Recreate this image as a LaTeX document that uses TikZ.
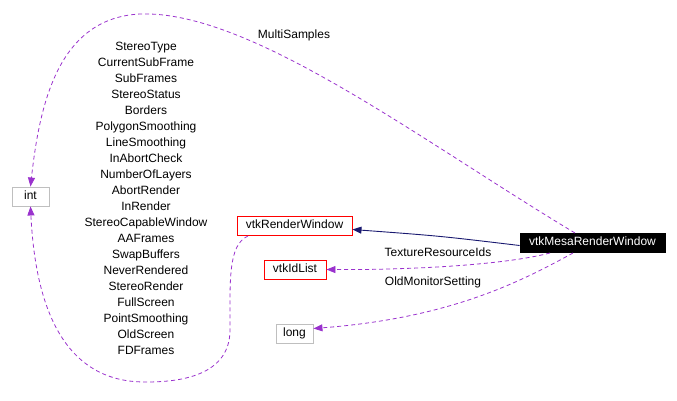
\documentclass[tikz,border=0pt]{standalone}
\usepackage{fontspec}
\setmainfont{Liberation Sans}
\usetikzlibrary{arrows.meta}
\definecolor{edgepurple}{HTML}{9A32CD}
\definecolor{edgenavy}{HTML}{191970}
\definecolor{boxgray}{HTML}{BFBFBF}
\begin{document}
\begin{tikzpicture}[x=1pt,y=-1pt,
  every node/.style={font=\fontsize{12}{14}\selectfont, inner sep=0pt, text height=8.6pt, text depth=2.4pt},
  cls/.style={draw, line width=0.9pt, minimum height=19pt, anchor=center},
  redbox/.style={cls, draw=red},
  graybox/.style={cls, draw=boxgray},
  mainbox/.style={cls, fill=black, draw=black, text=white},
  usage/.style={draw=edgepurple, line width=0.8pt, dash pattern=on 4pt off 3pt,
    -{Triangle[length=9pt,width=7pt,fill=edgepurple]}},
  inherit/.style={draw=edgenavy, line width=0.9pt,
    -{Triangle[length=9pt,width=7pt,fill=edgenavy]}},
  lbl/.style={anchor=center, text=black}]
\useasboundingbox (0,0) rectangle (677,401);
\node[graybox, minimum width=37pt] (int) at (30.5,196.5) {int};
\node[redbox, minimum width=115pt] (rw) at (294.5,225.5) {vtkRenderWindow};
\node[redbox, minimum width=62pt] (idl) at (295,269.5) {vtkIdList};
\node[graybox, minimum width=37pt] (long) at (294.5,333.5) {long};
\node[mainbox, minimum width=145pt] (mesa) at (592.5,242.5) {vtkMesaRenderWindow};

\coordinate (msS) at (575,233);
\coordinate (msP) at (140,14);
\draw[usage] (msS) .. controls (420,140) and (250,10) .. (msP)
  .. controls (60,18) and (40,100) .. (int.north);
\node[lbl] (lms) at (294,35) {MultiSamples};

\coordinate (rwS) at (248,236);
\coordinate (rwA) at (230,330);
\coordinate (rwB) at (145,382);
\draw[usage] (rwS) .. controls (228,245) and (230,280) .. (rwA)
  .. controls (230,380) and (170,382) .. (rwB)
  .. controls (60,382) and (35,300) .. (int.south);

\foreach \t [count=\i from 0] in {StereoType,CurrentSubFrame,SubFrames,StereoStatus,Borders,PolygonSmoothing,LineSmoothing,InAbortCheck,NumberOfLayers,AbortRender,InRender,StereoCapableWindow,AAFrames,SwapBuffers,NeverRendered,StereoRender,FullScreen,PointSmoothing,OldScreen,FDFrames}
  \node[lbl] (l\i) at (146,47+16*\i) {\t};

\draw[inherit] ([yshift=-3pt]mesa.west) .. controls (440,236) .. ([yshift=-4pt]rw.east);

\coordinate (trS) at (550,253);
\draw[usage] (trS) .. controls (500,266) and (400,270) .. (idl.east);
\node[lbl] (ltr) at (438,253) {TextureResourceIds};

\coordinate (omS) at (573,253);
\draw[usage] (omS) .. controls (520,282) and (450,318) .. ([yshift=5pt]long.east);
\node[lbl] (lom) at (433,282) {OldMonitorSetting};
\end{tikzpicture}
\end{document}
